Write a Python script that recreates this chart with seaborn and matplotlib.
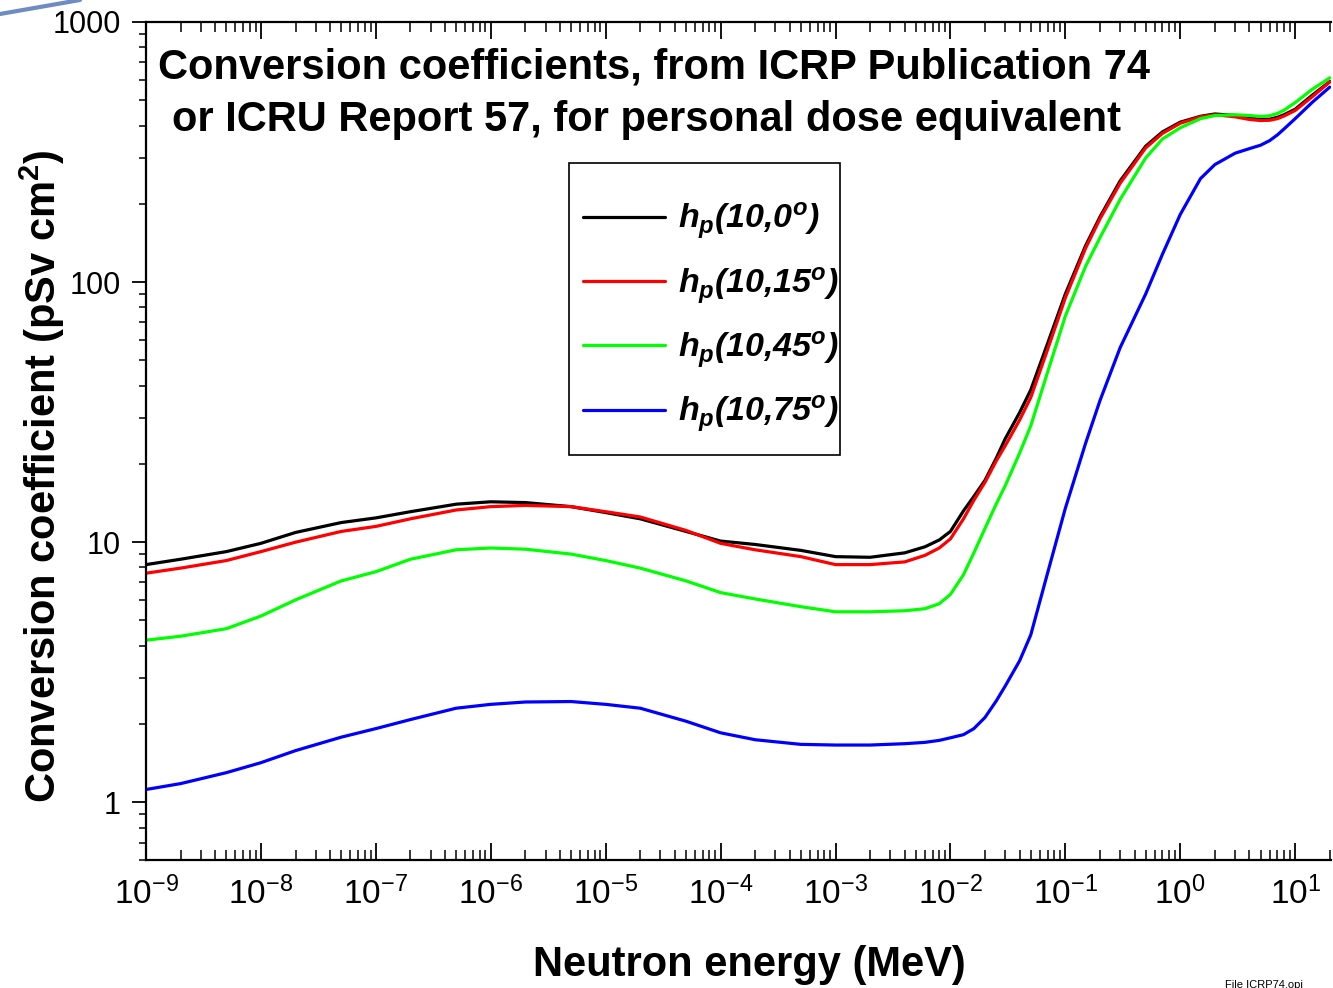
import numpy as np
import pandas as pd
import matplotlib
matplotlib.use("Agg")
import matplotlib.pyplot as plt
from matplotlib.lines import Line2D
from matplotlib.patches import Rectangle
import seaborn as sns

# ---- data ----
energy_mev = [1e-9, 2e-9, 5e-9, 1e-8, 2e-8, 5e-8, 1e-7, 2e-7, 5e-7, 1e-6,
              2e-6, 5e-6, 1e-5, 2e-5, 5e-5, 1e-4, 2e-4, 5e-4, 1e-3, 2e-3,
              4e-3, 6e-3, 8e-3, 1e-2, 1.3e-2, 1.6e-2, 2e-2, 2.5e-2, 3e-2, 4e-2,
              5e-2, 7e-2, 1e-1, 1.5e-1, 2e-1, 3e-1, 5e-1, 7e-1, 1, 1.5,
              2, 3, 4, 5, 6, 7, 8, 10, 14, 20]
hp_0 = [8.2, 8.6, 9.2, 9.9, 10.9, 11.9, 12.4, 13.1, 14.0, 14.3,
        14.2, 13.7, 13.0, 12.3, 11.0, 10.1, 9.8, 9.3, 8.8, 8.75,
        9.1, 9.6, 10.2, 11.0, 13.2, 15.0, 17.3, 21, 25, 31.5,
        38.5, 58, 90, 138, 178, 245, 333, 378, 412, 434,
        443, 437, 428, 422, 423, 430, 440, 462, 522, 590]
hp_15 = [7.6, 7.95, 8.5, 9.2, 10.0, 11.0, 11.5, 12.3, 13.3, 13.7,
         13.85, 13.7, 13.1, 12.5, 11.1, 9.9, 9.35, 8.8, 8.2, 8.2,
         8.4, 8.9, 9.5, 10.3, 12.3, 14.5, 17.0, 20.5, 23.5, 29.5,
         36, 55, 87, 135, 175, 240, 328, 373, 408, 432,
         440, 432, 422, 418, 419, 425, 435, 457, 515, 588]
hp_45 = [4.2, 4.35, 4.65, 5.2, 6.0, 7.1, 7.7, 8.6, 9.35, 9.5,
         9.4, 9.0, 8.5, 7.95, 7.1, 6.4, 6.05, 5.65, 5.4, 5.4,
         5.45, 5.55, 5.8, 6.3, 7.5, 9.1, 11.3, 14, 16.5, 22,
         28, 45, 74, 115, 148, 208, 300, 355, 392, 425,
         437, 440, 437, 433, 436, 445, 458, 490, 550, 610]
hp_75 = [1.12, 1.18, 1.30, 1.42, 1.58, 1.78, 1.92, 2.08, 2.3, 2.38,
         2.43, 2.44, 2.38, 2.3, 2.05, 1.85, 1.74, 1.67, 1.66, 1.66,
         1.68, 1.70, 1.73, 1.77, 1.82, 1.92, 2.12, 2.45, 2.8, 3.5,
         4.4, 7.6, 13.5, 24, 35, 56, 90, 128, 182, 250,
         283, 313, 326, 336, 350, 368, 388, 425, 490, 562]
series_labels = [r"$\mathit{h}_{\mathit{p}}$(10,0$^{\mathit{o}}$)",
                 r"$\mathit{h}_{\mathit{p}}$(10,15$^{\mathit{o}}$)",
                 r"$\mathit{h}_{\mathit{p}}$(10,45$^{\mathit{o}}$)",
                 r"$\mathit{h}_{\mathit{p}}$(10,75$^{\mathit{o}}$)"]
series_colors = ["#000000", "#ff0000", "#00ff00", "#0000ff"]
x_ticks = [1e-9, 1e-8, 1e-7, 1e-6, 1e-5, 1e-4, 1e-3, 1e-2, 1e-1, 1e0, 1e1]
x_tick_labels = [r"$10^{-9}$", r"$10^{-8}$", r"$10^{-7}$", r"$10^{-6}$", r"$10^{-5}$",
                 r"$10^{-4}$", r"$10^{-3}$", r"$10^{-2}$", r"$10^{-1}$", r"$10^{0}$", r"$10^{1}$"]
y_ticks = [1, 10, 100, 1000]
y_tick_labels = ["1", "10", "100", "1000"]

frames = []
for lab, vals in zip(series_labels, [hp_0, hp_15, hp_45, hp_75]):
    frames.append(pd.DataFrame({"E": energy_mev, "h": vals, "series": lab}))
df = pd.concat(frames, ignore_index=True)

# ---- style ----
sns.set_theme(style="ticks")
plt.rcParams["font.family"] = ["Liberation Sans", "DejaVu Sans"]
plt.rcParams["mathtext.fontset"] = "custom"
plt.rcParams["mathtext.rm"] = "Liberation Sans"
plt.rcParams["mathtext.it"] = "Liberation Sans:bold:italic"
plt.rcParams["mathtext.bf"] = "Liberation Sans:bold"
for k in ["text.color", "axes.labelcolor", "xtick.color", "ytick.color", "axes.edgecolor"]:
    plt.rcParams[k] = "black"

fig = plt.figure(figsize=(13.33, 9.88), dpi=100)
ax = fig.add_axes([146/1333, 1-860/988, (1331-146)/1333, (860-22)/988])

sns.lineplot(data=df, x="E", y="h", hue="series", palette=dict(zip(series_labels, series_colors)),
             linewidth=2.3, ax=ax, legend=False, sort=True, estimator=None)

ax.set_xscale("log")
ax.set_yscale("log")
ax.set_xlim(1e-9, 20.5)
ax.set_ylim(0.6, 1000)

ax.set_xticks(x_ticks)
ax.set_xticklabels(x_tick_labels)
ax.set_yticks(y_ticks)
ax.set_yticklabels(y_tick_labels)
ax.xaxis.set_minor_locator(matplotlib.ticker.LogLocator(base=10, subs=np.arange(2, 10), numticks=50))
ax.yaxis.set_minor_locator(matplotlib.ticker.LogLocator(base=10, subs=np.arange(2, 10), numticks=50))
ax.xaxis.set_minor_formatter(matplotlib.ticker.NullFormatter())
ax.yaxis.set_minor_formatter(matplotlib.ticker.NullFormatter())

ax.tick_params(axis="x", which="both", direction="in", top=True, bottom=True, labeltop=False,
               labelsize=24, pad=12, colors="black")
ax.tick_params(axis="x", which="major", length=12, width=1.3)
ax.tick_params(axis="x", which="minor", length=7, width=1.1)
ax.tick_params(axis="y", which="both", direction="out", left=True, right=False,
               labelsize=22, pad=8, colors="black")
ax.tick_params(axis="y", which="major", length=10, width=1.3)
ax.tick_params(axis="y", which="minor", length=5, width=1.1)

for s in ["left", "bottom", "top"]:
    ax.spines[s].set_linewidth(1.6)
    ax.spines[s].set_color("black")
ax.spines["right"].set_visible(False)

ax.set_xlabel("")
ax.set_ylabel("")
fig.text(749/1333, 1-965/988, "Neutron energy (MeV)", ha="center", va="center",
         fontsize=30, fontweight="bold")
fig.text(42/1333, 1-476/988, r"Conversion coefficient (pSv cm$^{\mathbf{2}}$)", ha="center", va="center",
         rotation=90, fontsize=30, fontweight="bold")

ax.text(0.0101, 0.9452, "Conversion coefficients, from ICRP Publication 74",
        transform=ax.transAxes, ha="left", va="center", fontsize=30, fontweight="bold")
ax.text(0.0219, 0.8830, "or ICRU Report 57, for personal dose equivalent",
        transform=ax.transAxes, ha="left", va="center", fontsize=30, fontweight="bold")

# legend frame and entries
ax.add_patch(Rectangle((0.357, 0.4833), 0.2287, 0.3484, transform=ax.transAxes,
                       fill=False, edgecolor="black", linewidth=1.2, zorder=4))
handles = [Line2D([0], [0], color=c, lw=2.3) for c in series_colors]
leg = ax.legend(handles, series_labels, loc="upper left", bbox_to_anchor=(0.3688, 0.7864),
                borderaxespad=0, borderpad=0, frameon=False,
                prop={"family": "Liberation Sans", "weight": "bold", "style": "italic", "size": 24.5},
                handlelength=2.4, handletextpad=0.38, labelspacing=0.7)

fig.text(1225/1333, 1-980/988, "File ICRP74.opj", ha="left", va="top", fontsize=8)
fig.add_artist(Line2D([0, 80/1333], [1-14/988, 1.0], transform=fig.transFigure,
                      color="#4a6fb0", lw=3, alpha=0.8))

fig.savefig("out.png", dpi=100)
